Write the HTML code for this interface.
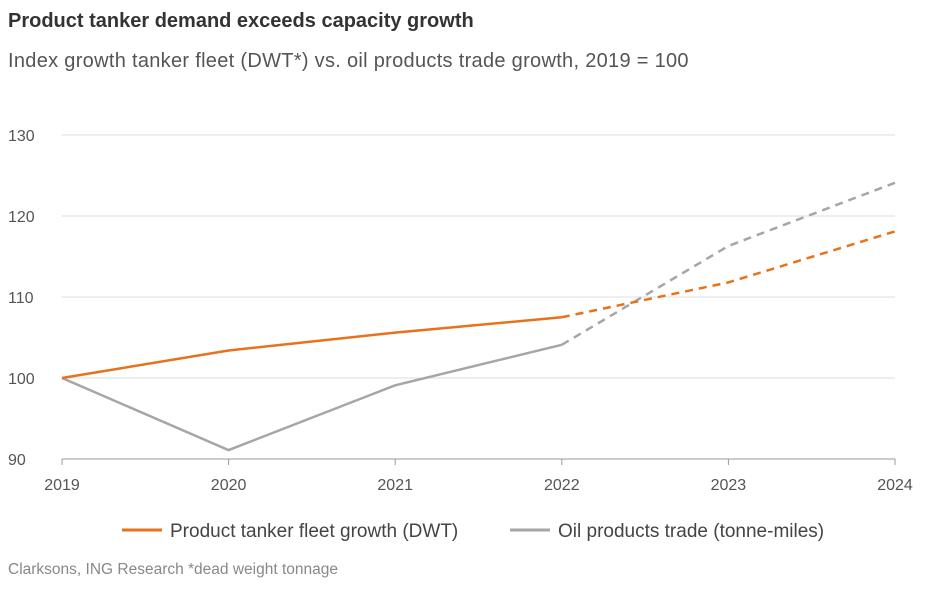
<!DOCTYPE html>
<html><head><meta charset="utf-8"><style>
body{margin:0;width:937px;height:589px;background:#fff;font-family:"Liberation Sans",sans-serif;overflow:hidden;position:relative}
.t{position:absolute;white-space:nowrap}
</style></head><body>
<div class="t" style="left:8px;top:10px;font-size:20px;font-weight:bold;color:#333">Product tanker demand exceeds capacity growth</div>
<div class="t" style="left:8px;top:50px;font-size:20px;letter-spacing:0.3px;color:#555">Index growth tanker fleet (DWT*) vs. oil products trade growth, 2019 = 100</div>
<svg id="c" width="937" height="589" style="position:absolute;left:0;top:0"></svg>
<div class="t" style="left:8px;top:561px;font-size:15.5px;color:#888">Clarksons, ING Research *dead weight tonnage</div>
<script>
const years=["2019","2020","2021","2022","2023","2024"];
const fleet=[100,103.4,105.6,107.5,111.8,118.1];
const trade=[100,91.1,99.1,104.1,116.3,124.1];
const yTicks=[90,100,110,120,130];
const actualCount=4;
const svg=document.getElementById('c');
const NS='http://www.w3.org/2000/svg';
const x=i=>62+i*166.6;
const y=v=>378-(v-100)*8.1;
function mk(t,a){const e=document.createElementNS(NS,t);for(const k in a)e.setAttribute(k,a[k]);svg.appendChild(e);return e;}
yTicks.forEach(v=>{
 const g=mk('line',{x1:62,x2:895,y1:y(v),y2:y(v),stroke:v===90?'#999':'#ddd','stroke-width':1});
 
 
 const t=mk('text',{x:8,y:y(v)+6,'font-size':16,fill:'#555'});t.textContent=v;
 
 
});
years.forEach((yr,i)=>{
 const l=mk('line',{x1:x(i),x2:x(i),y1:y(90),y2:y(90)+6,stroke:'#999'});
 
 
 const t=mk('text',{x:x(i),y:y(90)+31,'font-size':16,fill:'#555','text-anchor':'middle'});t.textContent=yr;
 
 
});
function series(vals,color,name){
 const pts=vals.map((v,i)=>x(i)+','+y(v));
 const solid=mk('polyline',{points:pts.slice(0,actualCount).join(' '),fill:'none',stroke:color,'stroke-width':2.5});
 
 
 const dash=mk('polyline',{points:pts.slice(actualCount-1).join(' '),fill:'none',stroke:color,'stroke-width':2.5,'stroke-dasharray':'8,6'});
 
 
}
series(trade,'#a6a6a6','trade-line');
series(fleet,'#e8711c','fleet-line');
const L=[[122,'#e8711c','Product tanker fleet growth (DWT)'],[510,'#a6a6a6','Oil products trade (tonne-miles)']];
L.forEach(([lx,c,txt])=>{
 const g=mk('g',{});
 
 
 const l=document.createElementNS(NS,'line');l.setAttribute('x1',lx);l.setAttribute('x2',lx+40);l.setAttribute('y1',530);l.setAttribute('y2',530);l.setAttribute('stroke',c);l.setAttribute('stroke-width',3);g.appendChild(l);
 const t=document.createElementNS(NS,'text');t.setAttribute('x',lx+48);t.setAttribute('y',537);t.setAttribute('font-size',19);t.setAttribute('fill','#444');t.textContent=txt;g.appendChild(t);
});
</script>
</body></html>
